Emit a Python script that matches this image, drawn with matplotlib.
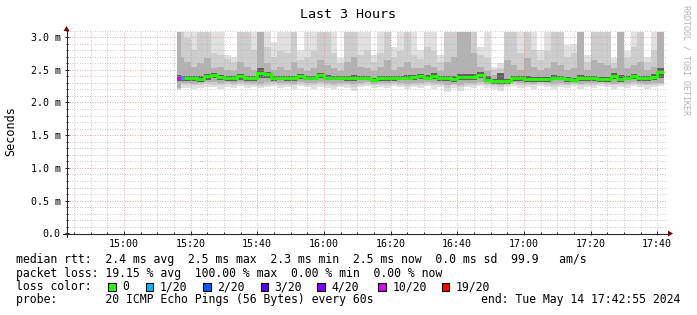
import datetime as dt

import matplotlib
matplotlib.use('Agg')
import matplotlib.pyplot as plt
import matplotlib.dates as mdates
import matplotlib.ticker as mticker
from matplotlib.lines import Line2D
from matplotlib.patches import Polygon, Rectangle
import numpy as np

W, H = 697, 315
plt.rcParams['font.family'] = 'DejaVu Sans Mono'

graph_start = dt.datetime(2024, 5, 14, 14, 42, 55)
graph_end = dt.datetime(2024, 5, 14, 17, 42, 55)
first_probe = dt.datetime(2024, 5, 14, 15, 16, 0)

# column start offsets (minutes after first probe), last column ends at 146
col_min = [0, 1] + list(range(2, 146, 2))
col_end = col_min[1:] + [146]

# loss per column (pings lost out of 20)
loss = [10, 1] + [0] * 72

# median rtt (ms)
median = [2.37, 2.37, 2.37, 2.37, 2.36, 2.40, 2.42, 2.385, 2.37, 2.37,
          2.40, 2.37, 2.37, 2.45, 2.43, 2.37, 2.38, 2.37, 2.37, 2.41,
          2.38, 2.38, 2.42, 2.38, 2.38, 2.38, 2.37, 2.37, 2.38, 2.38,
          2.35, 2.37, 2.37, 2.37, 2.38, 2.38, 2.39, 2.41, 2.38, 2.41,
          2.37, 2.37, 2.36, 2.39, 2.385, 2.385, 2.42, 2.35, 2.33, 2.33,
          2.33, 2.37, 2.37, 2.36, 2.36, 2.36, 2.36, 2.38, 2.38, 2.36,
          2.35, 2.37, 2.37, 2.37, 2.36, 2.36, 2.41, 2.36, 2.38, 2.41,
          2.37, 2.37, 2.39, 2.46]

# smoke: outer (lightest) to inner (darkest) ping spread, ms
hi1 = [3.08, 3.08, 3.08, 3.08, 3.08, 3.08, 3.08, 3.08, 2.72, 2.70,
       3.08, 3.08, 3.08, 3.08, 3.08, 2.93, 3.08, 3.08, 3.08, 2.80,
       3.08, 3.08, 3.08, 3.08, 3.08, 2.68, 3.08, 3.08, 3.08, 3.08,
       2.72, 3.08, 3.08, 2.85, 3.08, 3.08, 3.08, 2.80, 3.08, 3.08,
       2.72, 3.08, 3.08, 3.08, 3.08, 3.08, 2.85, 3.08, 2.55, 2.60,
       3.08, 3.08, 3.08, 3.08, 3.08, 2.80, 3.08, 2.73, 3.08, 2.88,
       2.90, 3.08, 2.73, 3.08, 3.08, 3.08, 2.68, 3.08, 2.78, 3.08,
       3.08, 2.70, 3.08, 3.08]
lo1 = [2.19, 2.22, 2.22, 2.20, 2.22, 2.24, 2.23, 2.21, 2.24, 2.22,
       2.25, 2.22, 2.24, 2.22, 2.23, 2.25, 2.22, 2.24, 2.21, 2.25,
       2.23, 2.21, 2.24, 2.22, 2.20, 2.24, 2.22, 2.18, 2.23, 2.25,
       2.22, 2.24, 2.22, 2.25, 2.23, 2.20, 2.24, 2.22, 2.25, 2.21,
       2.24, 2.16, 2.22, 2.18, 2.24, 2.22, 2.25, 2.22, 2.20, 2.18,
       2.23, 2.25, 2.22, 2.24, 2.21, 2.25, 2.23, 2.20, 2.24, 2.22,
       2.25, 2.21, 2.24, 2.22, 2.25, 2.23, 2.21, 2.24, 2.22, 2.25,
       2.23, 2.21, 2.24, 2.25]
hi2 = [3.08, 3.08, 2.98, 2.80, 3.08, 3.08, 2.75, 2.72, 2.66, 2.62,
       3.08, 3.08, 2.80, 3.08, 2.85, 2.70, 2.78, 2.75, 3.08, 2.65,
       2.70, 2.78, 3.08, 3.08, 2.75, 2.60, 3.08, 3.08, 2.72, 2.80,
       2.62, 2.75, 3.08, 2.70, 2.78, 3.08, 2.72, 2.66, 2.85, 2.78,
       2.62, 3.08, 3.08, 3.08, 3.08, 3.08, 2.72, 2.68, 2.50, 2.52,
       3.08, 3.08, 2.75, 3.08, 2.80, 2.65, 2.78, 3.08, 3.08, 2.70,
       2.75, 3.08, 2.62, 3.08, 3.08, 3.08, 2.60, 3.08, 2.68, 2.85,
       3.08, 2.62, 2.80, 3.08]
lo2 = [2.20, 2.26, 2.27, 2.26, 2.27, 2.28, 2.27, 2.26, 2.28, 2.27,
       2.28, 2.26, 2.27, 2.25, 2.27, 2.28, 2.26, 2.27, 2.26, 2.28,
       2.27, 2.26, 2.28, 2.27, 2.25, 2.27, 2.26, 2.24, 2.27, 2.28,
       2.26, 2.27, 2.26, 2.28, 2.27, 2.25, 2.27, 2.26, 2.28, 2.26,
       2.27, 2.22, 2.26, 2.23, 2.27, 2.26, 2.28, 2.26, 2.25, 2.23,
       2.27, 2.28, 2.26, 2.27, 2.26, 2.28, 2.27, 2.25, 2.27, 2.26,
       2.28, 2.26, 2.27, 2.26, 2.28, 2.27, 2.26, 2.27, 2.26, 2.28,
       2.27, 2.26, 2.27, 2.28]
hi3 = [3.08, 2.70, 2.62, 2.55, 2.60, 2.68, 2.52, 2.55, 2.50, 2.48,
       2.62, 2.55, 2.50, 3.08, 2.60, 2.50, 2.55, 2.50, 2.62, 2.52,
       2.48, 2.52, 2.65, 2.58, 2.52, 2.48, 2.62, 2.70, 2.55, 2.52,
       2.48, 2.55, 2.65, 2.50, 2.55, 2.62, 2.52, 2.52, 2.58, 2.55,
       2.48, 2.62, 2.70, 3.08, 3.08, 2.75, 2.55, 2.48, 2.42, 2.42,
       2.65, 2.58, 2.50, 2.68, 2.55, 2.50, 2.52, 2.62, 2.58, 2.50,
       2.52, 3.08, 2.50, 2.65, 2.60, 2.58, 2.52, 3.08, 2.52, 2.58,
       2.62, 2.50, 2.55, 3.08]
lo3 = [2.22, 2.30, 2.30, 2.29, 2.30, 2.31, 2.31, 2.30, 2.31, 2.30,
       2.31, 2.30, 2.30, 2.29, 2.31, 2.31, 2.30, 2.30, 2.29, 2.31,
       2.30, 2.30, 2.31, 2.30, 2.29, 2.30, 2.30, 2.28, 2.30, 2.31,
       2.29, 2.30, 2.30, 2.31, 2.30, 2.29, 2.30, 2.30, 2.31, 2.30,
       2.30, 2.27, 2.29, 2.27, 2.30, 2.30, 2.31, 2.29, 2.28, 2.27,
       2.29, 2.31, 2.30, 2.30, 2.29, 2.31, 2.30, 2.29, 2.30, 2.29,
       2.30, 2.29, 2.30, 2.30, 2.31, 2.30, 2.29, 2.30, 2.30, 2.31,
       2.30, 2.29, 2.30, 2.30]
hi4 = [2.42, 2.40, 2.40, 2.40, 2.40, 2.43, 2.45, 2.42, 2.40, 2.40,
       2.43, 2.40, 2.41, 2.52, 2.47, 2.40, 2.41, 2.40, 2.41, 2.44,
       2.41, 2.41, 2.45, 2.42, 2.41, 2.41, 2.41, 2.42, 2.41, 2.41,
       2.38, 2.40, 2.41, 2.40, 2.41, 2.42, 2.42, 2.44, 2.42, 2.45,
       2.40, 2.41, 2.40, 2.44, 2.43, 2.43, 2.46, 2.40, 2.36, 2.45,
       2.36, 2.40, 2.40, 2.40, 2.39, 2.39, 2.39, 2.42, 2.41, 2.39,
       2.38, 2.42, 2.40, 2.40, 2.39, 2.39, 2.45, 2.42, 2.41, 2.44,
       2.40, 2.40, 2.43, 2.52]
lo4 = [2.33, 2.33, 2.33, 2.33, 2.32, 2.35, 2.37, 2.34, 2.33, 2.33,
       2.35, 2.33, 2.33, 2.38, 2.38, 2.33, 2.34, 2.33, 2.33, 2.36,
       2.34, 2.34, 2.37, 2.34, 2.34, 2.34, 2.33, 2.33, 2.34, 2.34,
       2.31, 2.33, 2.33, 2.33, 2.34, 2.34, 2.35, 2.36, 2.34, 2.36,
       2.33, 2.33, 2.32, 2.35, 2.34, 2.34, 2.37, 2.31, 2.29, 2.29,
       2.29, 2.33, 2.33, 2.32, 2.32, 2.32, 2.32, 2.34, 2.34, 2.32,
       2.31, 2.33, 2.33, 2.33, 2.32, 2.32, 2.36, 2.32, 2.34, 2.36,
       2.33, 2.33, 2.35, 2.38]

loss_colors = {0: '#26ff00', 1: '#00b8ff', 2: '#0059ff', 3: '#5e00ff',
               4: '#7e00ff', 10: '#dd00ff', 19: '#ff0000'}
legend_loss = [('0', 0), ('1/20', 1), ('2/20', 2), ('3/20', 3),
               ('4/20', 4), ('10/20', 10), ('19/20', 19)]
box_x = [108.3, 145.7, 203.3, 260.7, 317.3, 378.3, 441.7]

row_rtt = 'median rtt:  2.4 ms avg  2.5 ms max  2.3 ms min  2.5 ms now  0.0 ms sd  99.9   am/s'
row_loss = 'packet loss: 19.15 % avg  100.00 % max  0.00 % min  0.00 % now'
row_probe = 'probe:       20 ICMP Echo Pings (56 Bytes) every 60s'
row_end = 'end: Tue May 14 17:42:55 2024'

AXIS = '#2a2a2a'
ARROW = '#7f0000'
textsize = 8.3


def fx(x):
    return x / W


def fy(y):
    return 1 - y / H


fig = plt.figure(figsize=(W / 100, H / 100), dpi=100, facecolor='white')
y0, ypx = 233.3, 65.4
ytop = 3.1
ax = fig.add_axes([fx(67), fy(y0), 600 / W, ytop * ypx / H])
ax.set_facecolor('white')

edges = mdates.date2num([first_probe + dt.timedelta(minutes=m) for m in col_min + [146]])


def ext(v):
    return list(v) + [v[-1]]


layers = [(lo1, hi1, '#e0e0e0'), (lo2, hi2, '#cdcdcd'),
          (lo3, hi3, '#b2b2b2'), (lo4, hi4, '#606060')]
for lo, hi, c in layers:
    ax.fill_between(edges, ext(lo), ext(hi), step='post', facecolor=c,
                    edgecolor='none', linewidth=0, zorder=1)

# median line, coloured by loss
n = len(median)
i = 0
while i < n:
    j = i
    while j < n and loss[j] == loss[i]:
        j += 1
    xs, ys = [], []
    if i > 0:
        xs.append(edges[i])
        ys.append(median[i - 1])
    for k in range(i, j):
        xs += [edges[k], edges[k + 1]]
        ys += [median[k], median[k]]
    ax.plot(xs, ys, color=loss_colors[loss[i]], lw=2.0, zorder=4,
            solid_capstyle='butt', solid_joinstyle='miter')
    i = j

ax.set_xlim(mdates.date2num(graph_start), mdates.date2num(graph_end))
ax.set_ylim(0, ytop)

ax.yaxis.set_major_locator(mticker.MultipleLocator(0.5))
ax.yaxis.set_minor_locator(mticker.MultipleLocator(0.1))
ax.yaxis.set_major_formatter(mticker.FuncFormatter(
    lambda v, p: '0.0' if abs(v) < 1e-9 else '%.1f m' % v))
ax.xaxis.set_major_locator(mdates.MinuteLocator(byminute=[0, 20, 40]))
ax.xaxis.set_minor_locator(mdates.MinuteLocator(byminute=range(0, 60, 5)))
ax.xaxis.set_major_formatter(mdates.DateFormatter('%H:%M'))

ax.set_axisbelow(False)
ax.grid(which='minor', color='#b8b8b8', lw=0.6, ls=(0, (1, 2)))
ax.grid(which='major', color='#e88c8c', lw=0.6, ls=(0, (1, 2)))

ax.tick_params(which='both', direction='inout', color=AXIS, width=0.72)
ax.tick_params(which='major', length=3)
ax.tick_params(which='minor', length=2)
ax.tick_params(axis='y', labelsize=7.2, pad=3)
ax.tick_params(axis='x', labelsize=7.2, pad=2.5)
for s in ax.spines.values():
    s.set_visible(False)

# axes lines with arrows
fig.add_artist(Line2D([fx(66.5), fx(66.5)], [fy(237), fy(30)], color=AXIS, lw=0.8))
fig.add_artist(Line2D([fx(63), fx(668)], [fy(233.5), fy(233.5)], color=AXIS, lw=0.8))
fig.add_artist(Polygon([(fx(63.5), fy(31)), (fx(69.5), fy(31)), (fx(66.5), fy(26))],
                       closed=True, facecolor=ARROW, edgecolor='none'))
fig.add_artist(Polygon([(fx(668), fy(230.5)), (fx(668), fy(236.5)), (fx(673), fy(233.5))],
                       closed=True, facecolor=ARROW, edgecolor='none'))

fig.text(fx(348), fy(14), 'Last 3 Hours', ha='center', va='center', fontsize=9.6)
fig.text(fx(11), fy(131), 'Seconds', rotation=90, ha='center', va='center', fontsize=8.5)
fig.text(fx(686), fy(60), 'RRDTOOL / TOBI OETIKER', rotation=270, ha='center',
         va='center', fontsize=6, color='#b4b4b4')

fig.text(fx(16), fy(260), row_rtt, ha='left', va='center', fontsize=textsize)
fig.text(fx(16), fy(273.3), row_loss, ha='left', va='center', fontsize=textsize)
fig.text(fx(16), fy(286.7), 'loss color:', ha='left', va='center', fontsize=textsize)
for (label, key), bx in zip(legend_loss, box_x):
    fig.add_artist(Rectangle((fx(bx), fy(290.5)), 7.5 / W, 7.5 / H,
                             facecolor=loss_colors[key], edgecolor='black', lw=0.8))
    fig.text(fx(bx + 14), fy(286.7), label, ha='left', va='center', fontsize=textsize)
fig.text(fx(16), fy(300), row_probe, ha='left', va='center', fontsize=textsize)
fig.text(fx(680.5), fy(300), row_end, ha='right', va='center', fontsize=textsize)

fig.savefig('out.png', dpi=100, facecolor='white')
